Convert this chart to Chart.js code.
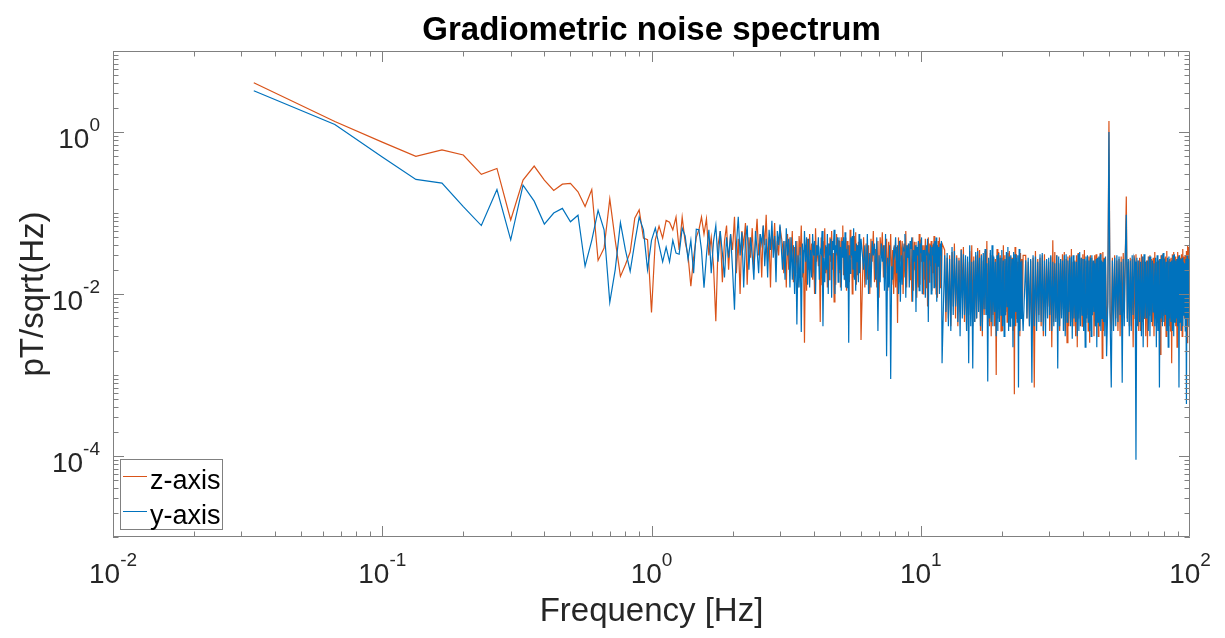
<!DOCTYPE html>
<html>
<head>
<meta charset="utf-8">
<title>Gradiometric noise spectrum</title>
<script src="https://cdn.jsdelivr.net/npm/chart.js@4.4.1/dist/chart.umd.min.js"></script>
<style>
  html, body { margin: 0; padding: 0; background: #fff; }
  #wrap { width: 1225px; height: 638px; }
</style>
</head>
<body>
<div id="wrap"><canvas id="psd" width="1225" height="638"></canvas></div>
<script>
// FFT bins kept for the plot (bin width 1/30 Hz): every bin up to 6 Hz, then thinned out
const binWidth = 1 / 30;
const binStart = [1, 92, 184, 368, 736, 1470];
const binStop = [90, 180, 360, 720, 1456, 3000];
const binStep = [1, 1, 2, 4, 8, 15];

// pT/sqrt(Hz), one value per kept bin
const zAxis = [
    4.05, 1.35, 0.75, 0.50, 0.60, 0.52, 0.30, 0.355, 0.082, 0.255,
    0.38, 0.255, 0.19, 0.227, 0.232, 0.183, 0.12, 0.195, 0.026, 0.037,
    0.149, 0.046, 0.0165, 0.023, 0.033, 0.086, 0.109, 0.049, 0.047, 0.0059,
    0.047, 0.069, 0.049, 0.081, 0.077, 0.062, 0.089, 0.035, 0.089, 0.044,
    0.030, 0.0125, 0.028, 0.050, 0.062,
    0.089, 0.055, 0.085, 0.030, 0.050, 0.022, 0.0046, 0.040, 0.060, 0.014,
    0.045, 0.070, 0.020, 0.055, 0.035, 0.090, 0.018, 0.048, 0.010, 0.060,
    0.040, 0.075, 0.013, 0.050, 0.028, 0.065, 0.020, 0.045, 0.085, 0.030,
    0.055, 0.016, 0.070, 0.040, 0.095, 0.025, 0.050, 0.012, 0.060, 0.035,
    0.075, 0.022, 0.045, 0.030, 0.068,
    // 3 - 6 Hz
    0.040, 0.018, 0.045, 0.012, 0.055, 0.020, 0.050, 0.025, 0.060, 0.014,
    0.038, 0.018, 0.045, 0.012, 0.052, 0.030, 0.070, 0.016, 0.035, 0.0025,
    0.040, 0.011, 0.048, 0.020, 0.055, 0.022, 0.042, 0.015, 0.035, 0.010,
    0.065, 0.025, 0.040, 0.022, 0.030, 0.0045, 0.050, 0.013, 0.045, 0.028,
    0.065, 0.018, 0.038, 0.012, 0.042, 0.015, 0.050, 0.025, 0.060, 0.020,
    0.032, 0.008, 0.038, 0.013, 0.055, 0.030, 0.046, 0.018, 0.045, 0.012,
    0.050, 0.030, 0.070, 0.017, 0.040, 0.015, 0.050, 0.011, 0.045, 0.022,
    0.040, 0.014, 0.062, 0.028, 0.044, 0.010, 0.048, 0.016, 0.052, 0.030,
    0.058, 0.013, 0.040, 0.017, 0.044, 0.020, 0.036, 0.025, 0.0027,
    // 6 - 12 Hz
    0.050, 0.012, 0.042, 0.015, 0.040, 0.010, 0.048, 0.025, 0.060, 0.014,
    0.036, 0.012, 0.045, 0.009, 0.050, 0.030, 0.058, 0.016, 0.040, 0.018,
    0.048, 0.011, 0.044, 0.022, 0.055, 0.013, 0.035, 0.010, 0.040, 0.012,
    0.038, 0.0044, 0.050, 0.014, 0.046, 0.025, 0.045, 0.010, 0.042, 0.016,
    0.060, 0.012, 0.040, 0.028, 0.042, 0.015, 0.036, 0.008, 0.050, 0.011,
    0.044, 0.020, 0.044, 0.009, 0.038, 0.012, 0.055, 0.013, 0.047, 0.025,
    0.040, 0.010, 0.040, 0.015, 0.048, 0.012, 0.035, 0.007, 0.050, 0.014,
    0.042, 0.022, 0.045, 0.011, 0.040, 0.018, 0.052, 0.012, 0.034, 0.010,
    0.040, 0.009, 0.045, 0.024, 0.050, 0.012, 0.038, 0.014, 0.042,
    // 12 - 24 Hz
    0.035, 0.0045, 0.028, 0.005, 0.030, 0.004, 0.033, 0.007, 0.042, 0.005,
    0.030, 0.004, 0.028, 0.006, 0.036, 0.009, 0.038, 0.0045, 0.027, 0.0035,
    0.025, 0.0055, 0.034, 0.006, 0.040, 0.004, 0.029, 0.0045, 0.030, 0.005,
    0.037, 0.008, 0.035, 0.0035, 0.031, 0.003, 0.026, 0.0055, 0.034, 0.0065,
    0.045, 0.0045, 0.026, 0.004, 0.032, 0.003, 0.030, 0.0055, 0.028, 0.004,
    0.027, 0.0010, 0.036, 0.005, 0.033, 0.007, 0.030, 0.0035, 0.028, 0.0035,
    0.040, 0.0055, 0.030, 0.006, 0.026, 0.0045, 0.032, 0.004, 0.034, 0.006,
    0.029, 0.008, 0.028, 0.0035, 0.026, 0.00058, 0.038, 0.004, 0.031, 0.005,
    0.025, 0.0045, 0.028, 0.003, 0.032, 0.0055, 0.027, 0.0065, 0.030,
    // 24 - 48 Hz
    0.030, 0.005, 0.025, 0.004, 0.026, 0.0035, 0.028, 0.0007, 0.034, 0.0045,
    0.027, 0.0055, 0.028, 0.004, 0.030, 0.003, 0.031, 0.005, 0.026, 0.007,
    0.025, 0.0035, 0.029, 0.0022, 0.046, 0.0045, 0.033, 0.005, 0.030, 0.004,
    0.024, 0.0035, 0.027, 0.0055, 0.031, 0.0065, 0.033, 0.0035, 0.027, 0.0025,
    0.029, 0.004, 0.030, 0.005, 0.036, 0.0045, 0.025, 0.004, 0.026, 0.003,
    0.030, 0.0022, 0.032, 0.005, 0.027, 0.006, 0.028, 0.004, 0.031, 0.0035,
    0.035, 0.0045, 0.026, 0.0055, 0.027, 0.0035, 0.029, 0.0025, 0.030, 0.0055,
    0.028, 0.007, 0.025, 0.003, 0.030, 0.004, 0.031, 0.0045, 0.026, 0.003,
    0.028, 0.004, 0.032, 0.006, 0.025, 0.0016, 0.033, 0.0035, 0.028, 0.0045,
    0.027,
    // 49 - 100 Hz
    0.004, 0.008, 1.37, 0.006, 0.0035, 0.028, 0.004, 0.030, 0.005, 0.026,
    0.0035, 0.027, 0.003, 0.029, 0.0045, 0.032, 0.006, 0.030, 0.16, 0.005,
    0.025, 0.004, 0.028, 0.004, 0.027, 0.0022, 0.030, 0.005, 0.031, 0.0055,
    0.026, 0.0035, 0.028, 0.0035, 0.031, 0.0045, 0.029, 0.005, 0.025, 0.003,
    0.026, 0.0022, 0.029, 0.0055, 0.030, 0.0065, 0.027, 0.004, 0.028, 0.003,
    0.033, 0.005, 0.025, 0.0045, 0.026, 0.0035, 0.027, 0.0018, 0.030, 0.0045,
    0.031, 0.0055, 0.028, 0.004, 0.029, 0.003, 0.034, 0.005, 0.026, 0.004,
    0.027, 0.0035, 0.028, 0.0014, 0.031, 0.0055, 0.033, 0.006, 0.029, 0.004,
    0.027, 0.0022, 0.033, 0.005, 0.030, 0.0045, 0.028, 0.0035, 0.031, 0.003,
    0.036, 0.0055, 0.029, 0.005, 0.030, 0.004, 0.034, 0.0025, 0.040, 0.0055,
    0.038, 0.006, 0.045
];

const yAxis = [
    3.23, 1.24, 0.49, 0.26, 0.234, 0.12, 0.070, 0.195, 0.0466, 0.221,
    0.14, 0.073, 0.10, 0.114, 0.078, 0.094, 0.022, 0.046, 0.108, 0.062,
    0.0079, 0.020, 0.076, 0.035, 0.019, 0.043, 0.089, 0.062, 0.020, 0.046,
    0.065, 0.040, 0.025, 0.038, 0.025, 0.046, 0.032, 0.031, 0.065, 0.052,
    0.027, 0.046, 0.018, 0.063, 0.062,
    0.035, 0.012, 0.030, 0.062, 0.018, 0.045, 0.070, 0.025, 0.060, 0.032,
    0.016, 0.050, 0.028, 0.055, 0.020, 0.0064, 0.040, 0.090, 0.030, 0.058,
    0.012, 0.045, 0.070, 0.020, 0.050, 0.030, 0.015, 0.060, 0.035, 0.018,
    0.055, 0.042, 0.070, 0.022, 0.048, 0.016, 0.062, 0.035, 0.080, 0.028,
    0.052, 0.014, 0.060, 0.040, 0.072,
    // 3 - 6 Hz
    0.020, 0.045, 0.015, 0.065, 0.030, 0.048, 0.012, 0.050, 0.015, 0.040,
    0.010, 0.045, 0.0042, 0.030, 0.012, 0.038, 0.0034, 0.042, 0.018, 0.060,
    0.025, 0.050, 0.013, 0.048, 0.012, 0.035, 0.016, 0.055, 0.030, 0.045,
    0.010, 0.040, 0.030, 0.050, 0.015, 0.035, 0.032, 0.060, 0.004, 0.028,
    0.014, 0.040, 0.020, 0.055, 0.010, 0.042, 0.030, 0.048, 0.009, 0.045,
    0.035, 0.062, 0.010, 0.040, 0.035, 0.050, 0.014, 0.050, 0.020, 0.038,
    0.011, 0.045, 0.028, 0.050, 0.015, 0.058, 0.012, 0.036, 0.012, 0.040,
    0.0025, 0.030, 0.018, 0.050, 0.030, 0.052, 0.020, 0.065, 0.015, 0.034,
    0.011, 0.042, 0.025, 0.040, 0.014, 0.055, 0.018, 0.030, 0.048,
    // 6 - 12 Hz
    0.020, 0.040, 0.013, 0.055, 0.010, 0.032, 0.012, 0.045, 0.030, 0.042,
    0.015, 0.050, 0.0035, 0.030, 0.014, 0.042, 0.025, 0.040, 0.011, 0.055,
    0.0017, 0.028, 0.012, 0.040, 0.00089, 0.022, 0.015, 0.035, 0.030, 0.050,
    0.018, 0.040, 0.010, 0.045, 0.008, 0.030, 0.013, 0.038, 0.034, 0.055,
    0.009, 0.040, 0.028, 0.042, 0.012, 0.045, 0.036, 0.050, 0.008, 0.035,
    0.025, 0.040, 0.006, 0.038, 0.030, 0.045, 0.011, 0.042, 0.032, 0.050,
    0.010, 0.035, 0.025, 0.035, 0.009, 0.040, 0.030, 0.048, 0.0045, 0.030,
    0.028, 0.040, 0.010, 0.038, 0.030, 0.042, 0.012, 0.045, 0.024, 0.050,
    0.008, 0.040, 0.022, 0.038, 0.010, 0.042, 0.030, 0.045, 0.0014,
    // 12 - 24 Hz
    0.030, 0.006, 0.032, 0.004, 0.027, 0.0035, 0.038, 0.0055, 0.034, 0.007,
    0.028, 0.0045, 0.026, 0.003, 0.035, 0.005, 0.031, 0.0055, 0.030, 0.0035,
    0.029, 0.0014, 0.040, 0.004, 0.025, 0.0012, 0.026, 0.0045, 0.033, 0.005,
    0.034, 0.006, 0.028, 0.004, 0.030, 0.0035, 0.032, 0.0065, 0.036, 0.0055,
    0.024, 0.00083, 0.028, 0.005, 0.035, 0.0045, 0.040, 0.004, 0.029, 0.006,
    0.025, 0.003, 0.030, 0.0035, 0.032, 0.0045, 0.028, 0.0055, 0.035, 0.004,
    0.026, 0.003, 0.027, 0.0055, 0.033, 0.007, 0.038, 0.0035, 0.029, 0.004,
    0.030, 0.005, 0.027, 0.0022, 0.033, 0.004, 0.031, 0.006, 0.028, 0.0045,
    0.030, 0.0007, 0.036, 0.0035, 0.025, 0.005, 0.026, 0.0055, 0.0035,
    // 24 - 48 Hz
    0.026, 0.005, 0.028, 0.004, 0.027, 0.0008, 0.030, 0.004, 0.029, 0.0035,
    0.025, 0.0045, 0.031, 0.0045, 0.032, 0.0035, 0.026, 0.003, 0.027, 0.005,
    0.028, 0.0055, 0.030, 0.0035, 0.025, 0.004, 0.024, 0.0045, 0.030, 0.0012,
    0.029, 0.004, 0.027, 0.005, 0.026, 0.0035, 0.030, 0.003, 0.031, 0.0045,
    0.026, 0.006, 0.028, 0.004, 0.029, 0.0028, 0.030, 0.005, 0.025, 0.0045,
    0.025, 0.003, 0.031, 0.0035, 0.033, 0.004, 0.028, 0.0055, 0.027, 0.0035,
    0.027, 0.0022, 0.029, 0.005, 0.030, 0.0045, 0.026, 0.0035, 0.028, 0.003,
    0.030, 0.0055, 0.026, 0.006, 0.024, 0.004, 0.027, 0.0022, 0.028, 0.0045,
    0.029, 0.004, 0.031, 0.0035, 0.026, 0.005, 0.025, 0.0045, 0.027, 0.003,
    0.029,
    // 49 - 100 Hz
    0.0017, 0.007, 1.00, 0.005, 0.0007, 0.026, 0.0035, 0.028, 0.004, 0.030,
    0.0045, 0.029, 0.0055, 0.025, 0.0008, 0.027, 0.004, 0.030, 0.095, 0.0045,
    0.027, 0.003, 0.026, 0.0035, 0.030, 0.0055, 0.028, 0.025, 0.00009, 0.028,
    0.004, 0.026, 0.0045, 0.025, 0.003, 0.029, 0.0022, 0.031, 0.005, 0.025,
    0.005, 0.026, 0.0035, 0.029, 0.003, 0.029, 0.0045, 0.026, 0.006, 0.024,
    0.004, 0.028, 0.0022, 0.030, 0.0035, 0.026, 0.0007, 0.027, 0.005, 0.030,
    0.004, 0.032, 0.0045, 0.027, 0.0055, 0.025, 0.0035, 0.028, 0.0022, 0.029,
    0.005, 0.025, 0.0045, 0.026, 0.0035, 0.030, 0.003, 0.031, 0.0045, 0.026,
    0.005, 0.027, 0.004, 0.029, 0.0007, 0.030, 0.0045, 0.027, 0.0035, 0.028,
    0.004, 0.025, 0.0055, 0.024, 0.0035, 0.027, 0.00044, 0.030, 0.005, 0.027,
    0.004, 0.028, 0.008
];

const xTickExp = [-2, -1, 0, 1, 2];
const yTickExp = [-4, -2, 0];
const seriesNames = ['z-axis', 'y-axis'];
const seriesColors = ['#D95319', '#0072BD'];

const FONT = '"Liberation Sans", Arial, Helvetica, sans-serif';
const AXIS_GREY = '#808080';
const TEXT_DARK = '#262626';

const freqHz = [];
binStart.forEach((start, s) => {
    for (let k = start; k <= binStop[s]; k += binStep[s]) freqHz.push(k * binWidth);
});

// "10" with a raised exponent, like MATLAB tick labels
function drawPower(ctx, exp, x, baseY, align) {
    const baseFont = '28px ' + FONT;
    const supFont = '19px ' + FONT;
    const sup = String(exp);
    ctx.font = baseFont;
    const wb = ctx.measureText('10').width;
    ctx.font = supFont;
    const we = ctx.measureText(sup).width;
    const left = align === 'center' ? x - (wb + we) / 2 : x - wb - we;
    ctx.textAlign = 'left';
    ctx.textBaseline = 'alphabetic';
    ctx.fillStyle = TEXT_DARK;
    ctx.font = baseFont;
    ctx.fillText('10', left, baseY);
    ctx.font = supFont;
    ctx.fillText(sup, left + wb, baseY - 17);
}

// box, inward ticks on all four sides, tick labels and legend
const matlabAxes = {
    id: 'matlabAxes',
    afterDraw(chart) {
        const { ctx, chartArea: a, scales: { x, y } } = chart;
        const majorLen = 11, minorLen = 5.5;
        ctx.save();
        ctx.strokeStyle = AXIS_GREY;
        ctx.lineWidth = 1;
        ctx.beginPath();
        ctx.rect(a.left + 0.5, a.top + 0.5, a.right - a.left - 1, a.bottom - a.top - 1);

        // x ticks
        for (let e = -2; e <= 1; e++) {
            for (let m = 1; m <= 9; m++) {
                const v = m * Math.pow(10, e);
                const px = Math.round(x.getPixelForValue(v)) + 0.5;
                const len = m === 1 ? majorLen : minorLen;
                ctx.moveTo(px, a.bottom); ctx.lineTo(px, a.bottom - len);
                ctx.moveTo(px, a.top); ctx.lineTo(px, a.top + len);
            }
        }
        // y ticks, labelled decades are major
        for (let e = -5; e <= 0; e++) {
            for (let m = 1; m <= 9; m++) {
                const v = m * Math.pow(10, e);
                const py = Math.round(y.getPixelForValue(v)) + 0.5;
                const len = (m === 1 && yTickExp.includes(e)) ? majorLen : minorLen;
                ctx.moveTo(a.left, py); ctx.lineTo(a.left + len, py);
                ctx.moveTo(a.right, py); ctx.lineTo(a.right - len, py);
            }
        }
        ctx.stroke();

        xTickExp.forEach(e => drawPower(ctx, e, x.getPixelForValue(Math.pow(10, e)), 583, 'center'));
        yTickExp.forEach(e => drawPower(ctx, e, 100, y.getPixelForValue(Math.pow(10, e)) + 16, 'right'));

        // legend, bottom-left inside the axes
        const lx = a.left + 7, ly = a.bottom - 78;
        ctx.fillStyle = '#fff';
        ctx.fillRect(lx, ly, 102, 70);
        ctx.strokeStyle = AXIS_GREY;
        ctx.strokeRect(lx + 0.5, ly + 0.5, 102, 70);
        ctx.font = '27px ' + FONT;
        ctx.textAlign = 'left';
        ctx.textBaseline = 'alphabetic';
        seriesNames.forEach((name, i) => {
            const rowY = ly + 17.5 + i * 35;
            ctx.strokeStyle = seriesColors[i];
            ctx.beginPath();
            ctx.moveTo(lx + 3, rowY);
            ctx.lineTo(lx + 27, rowY);
            ctx.stroke();
            ctx.fillStyle = '#000';
            ctx.fillText(name, lx + 30, rowY + 12);
        });
        ctx.restore();
    }
};

const ctx = document.getElementById('psd').getContext('2d');
new Chart(ctx, {
    type: 'line',
    data: {
        datasets: [
            {
                label: seriesNames[0],
                data: freqHz.map((f, i) => ({ x: f, y: zAxis[i] })),
                borderColor: seriesColors[0],
                borderWidth: 1.2,
                pointRadius: 0,
                tension: 0,
                fill: false,
                order: 1
            },
            {
                label: seriesNames[1],
                data: freqHz.map((f, i) => ({ x: f, y: yAxis[i] })),
                borderColor: seriesColors[1],
                borderWidth: 1.2,
                pointRadius: 0,
                tension: 0,
                fill: false,
                order: 0
            }
        ]
    },
    options: {
        responsive: false,
        animation: false,
        layout: { padding: { left: 0, right: 35, top: 0, bottom: 0 } },
        plugins: {
            legend: { display: false },
            tooltip: { enabled: false },
            title: {
                display: true,
                fullSize: false,
                text: 'Gradiometric noise spectrum',
                color: '#000',
                font: { family: FONT, size: 33, weight: 'bold' },
                padding: { top: 11, bottom: 0.4 }
            }
        },
        scales: {
            x: {
                type: 'logarithmic',
                min: 0.01,
                max: 100,
                grid: { display: false },
                border: { display: false },
                ticks: { display: false },
                title: {
                    display: true,
                    text: 'Frequency [Hz]',
                    color: TEXT_DARK,
                    font: { family: FONT, size: 33 },
                    padding: { top: 0, bottom: 6 }
                },
                afterFit: (scale) => { scale.height = 101; }
            },
            y: {
                type: 'logarithmic',
                min: 1e-5,
                max: 10,
                grid: { display: false },
                border: { display: false },
                ticks: { display: false },
                title: {
                    display: true,
                    text: 'pT/sqrt(Hz)',
                    color: TEXT_DARK,
                    font: { family: FONT, size: 33 },
                    padding: { top: 14, bottom: 0 }
                },
                afterFit: (scale) => { scale.width = 113; }
            }
        }
    },
    plugins: [matlabAxes]
});
</script>
</body>
</html>
